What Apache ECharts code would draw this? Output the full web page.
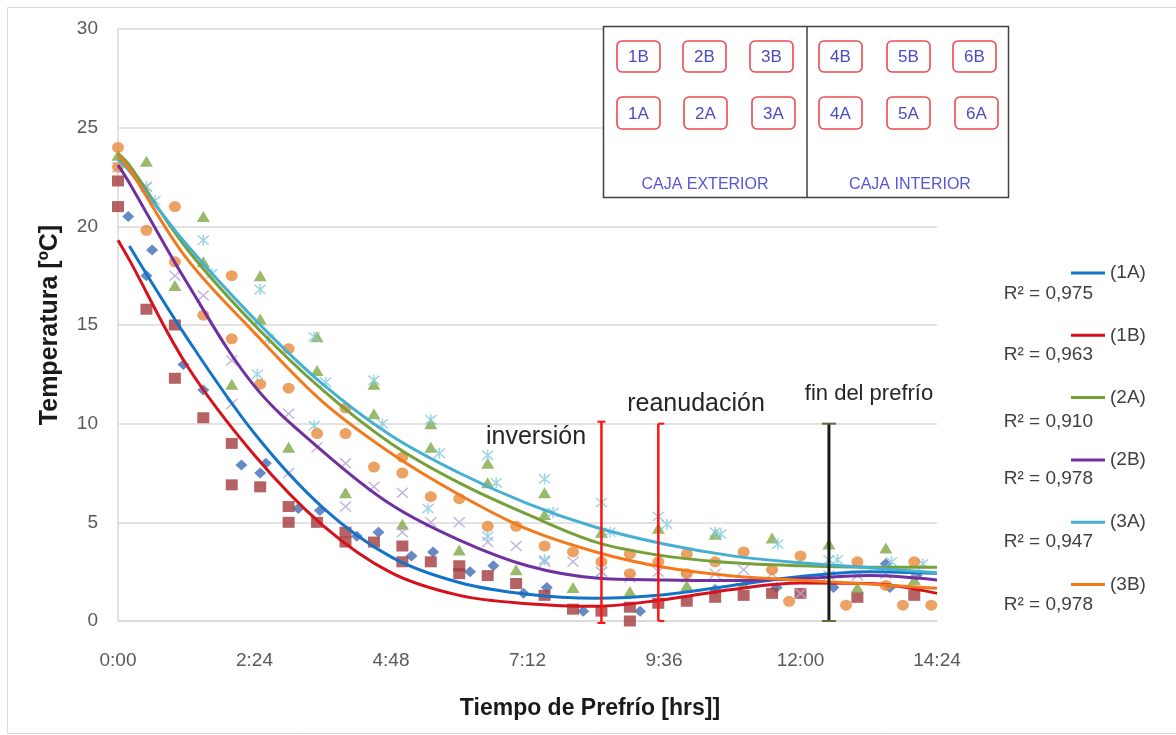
<!DOCTYPE html>
<html>
<head>
<meta charset="utf-8">
<script src="https://cdn.jsdelivr.net/npm/echarts@6/dist/echarts.min.js"></script>
<style>
html,body{margin:0;padding:0;background:#fff;}
#chart{width:1176px;height:735px;}
</style>
</head>
<body>
<div id="chart"></div>
<script>
// ---- tick labels ----
const xTickLabels = ['0:00','2:24','4:48','7:12','9:36','12:00','14:24'];

// ---- measured points (time in hours, temperature in °C) ----
const t1A = [0.18,0.5,0.6,1.15,1.5,2.17,2.5,2.6,3.17,3.55,4.2,4.58,5.16,5.54,6.19,6.6,7.13,7.54,8.18,9.18,10.5,11.58,12.58,13.5,13.57,14.04];
const v1A = [20.5,17.5,18.8,13.0,11.7,7.9,7.5,8.0,5.7,5.6,4.3,4.5,3.3,3.5,2.5,2.8,1.4,1.7,0.5,0.5,1.6,1.7,1.7,2.9,1.7,2.3];

const t1B = [0,0,0.5,1.0,1.0,1.5,2.0,2.0,2.5,3.0,3.0,3.5,4.0,4.0,4.5,5.0,5.0,5.5,6.0,6.0,6.5,7.0,7.5,8.0,8.5,9.0,9.0,9.5,10.0,10.5,11.0,11.5,12.0,13.0,14.0];
const v1B = [22.3,21.0,15.8,15.0,12.3,10.3,9.0,6.9,6.8,5.8,5.0,5.0,4.5,4.0,4.0,3.8,3.0,3.0,2.8,2.4,2.3,1.9,1.3,0.6,0.5,0.7,0.0,0.9,1.0,1.2,1.3,1.4,1.4,1.2,1.3];

const t2A = [0,0.5,1.0,1.5,1.5,2.0,2.5,2.5,3.0,3.5,3.5,4.0,4.5,4.5,5.0,5.5,5.5,6.0,6.5,6.5,7.0,7.5,7.5,8.0,8.5,9.0,9.5,10.0,10.5,11.0,11.5,12.5,13.0,13.5,14.0];
const v2A = [23.6,23.3,17.0,20.5,18.2,12.0,17.5,15.3,8.8,14.4,12.7,6.5,12.0,10.5,4.9,10.0,8.8,3.6,8.0,7.0,2.6,6.5,5.4,1.7,4.5,1.5,4.7,1.8,4.4,1.9,4.2,3.9,1.7,3.7,2.1];

const t2B = [0,0.5,1.0,1.5,2.0,2.0,3.0,3.0,3.5,4.0,4.0,4.5,5.0,5.0,5.5,6.0,6.5,7.0,7.5,8.0,8.5,9.0,9.5,10.0,10.5,11.0,11.5,12.0,12.5,13.0,13.5,14.0];
const v2B = [23.0,22.0,17.5,16.5,13.2,11.0,10.5,7.5,8.8,8.0,5.8,6.8,6.5,4.5,5.0,5.0,4.0,3.8,3.0,3.0,2.5,2.2,2.5,2.2,2.4,2.6,2.4,1.4,2.3,2.3,2.4,2.4];

const t3A = [0.5,0.65,1.5,1.65,2.45,2.5,2.65,3.45,3.45,3.65,4.5,4.65,5.45,5.5,5.65,6.5,6.5,6.65,7.5,7.5,7.65,8.5,8.5,8.65,9.5,9.65,10.5,10.6,11.6,12.5,12.65,13.6,14.15];
const v3A = [22.0,21.3,19.3,17.6,12.5,16.8,14.3,14.4,9.9,12.1,12.2,10.0,5.7,10.2,8.5,8.4,4.3,7.0,7.2,3.1,5.5,6.0,2.5,4.5,5.3,4.9,4.5,4.4,3.9,3.1,3.1,3.0,2.9];

const t3B = [0,0,0.5,1.0,1.0,1.5,2.0,2.0,2.5,3.0,3.0,3.5,4.0,4.0,4.5,5.0,5.0,5.5,6.0,6.5,7.0,7.5,8.0,8.5,9.0,9.0,9.5,10.0,10.0,10.5,11.0,11.5,11.8,12.0,12.8,13.0,13.5,13.8,14.0,14.3];
const v3B = [24.0,23.0,19.8,21.0,18.2,15.5,17.5,14.3,12.0,13.8,11.8,9.5,10.8,9.5,7.8,8.3,7.5,6.3,6.2,4.8,4.8,3.8,3.5,3.0,3.4,2.4,3.0,3.4,2.4,3.0,3.5,2.6,1.0,3.3,0.8,3.0,1.8,0.8,3.0,0.8];

// ---- trend lines ----
const fitTimes = [0,0.2,1.2,2.4,3.6,4.8,6.0,7.2,8.4,9.6,10.8,12.0,13.2,14.4];
const fit1A = [null,19.0,14.4,9.5,5.75,3.25,1.95,1.35,1.15,1.33,1.8,2.25,2.5,2.42];
const fit1B = [19.3,18.3,13.0,8.4,4.85,2.45,1.3,0.88,0.75,1.08,1.6,1.92,1.9,1.4];
const fit2A = [23.7,23.1,18.9,15.0,11.7,9.0,7.0,5.4,4.0,3.3,2.95,2.8,2.73,2.72];
const fit2B = [23.1,22.2,17.2,11.9,8.6,5.9,4.1,2.8,2.18,2.08,2.05,2.15,2.3,2.08];
const fit3A = [23.4,22.8,19.1,15.3,12.0,9.4,7.5,5.95,4.75,3.9,3.3,2.95,2.7,2.45];
const fit3B = [23.6,22.9,18.4,14.6,11.1,8.5,6.4,4.65,3.5,2.72,2.28,2.07,1.87,1.66];

const seriesNames = ['(1A)','(1B)','(2A)','(2B)','(3A)','(3B)'];
const r2Labels = ['R² = 0,975','R² = 0,963','R² = 0,910','R² = 0,978','R² = 0,947','R² = 0,978'];

// ---- events ----
const eventNames = ['inversión','reanudación','fin del prefrío'];
const eventTimes = [8.5, 9.5, 12.5];
const eventLow = [-0.1, 0, 0];
const eventHigh = [10.1, 10, 10];

// ---- box diagram labels ----
const boxTop = ['1B','2B','3B','4B','5B','6B'];
const boxBottom = ['1A','2A','3A','4A','5A','6A'];
const boxGroups = ['CAJA EXTERIOR','CAJA INTERIOR'];

const FONT = '"Liberation Sans", Arial, sans-serif';
const pairs = (ts, vs) => ts.map((t, i) => [t, vs[i]]);
const fitPairs = vs => fitTimes.map((t, i) => [t, vs[i]]);

const X_PATH = 'path://M0,0L10,10M10,0L0,10';
const STAR_PATH = 'path://M0,0L10,10M10,0L0,10M5,-1L5,11';

const scatterDefs = [
  {name:'1A pts', data: pairs(t1A, v1A), symbol:'diamond', size:[12,11], color:'#3E6DB5'},
  {name:'1B pts', data: pairs(t1B, v1B), symbol:'rect', size:[12,11], color:'#A33B3D'},
  {name:'2A pts', data: pairs(t2A, v2A), symbol:'triangle', size:[13,11], color:'#80A846'},
  {name:'2B pts', data: pairs(t2B, v2B), symbol:X_PATH, size:[11,10], stroke:'#B3A5D6'},
  {name:'3A pts', data: pairs(t3A, v3A), symbol:STAR_PATH, size:[11,11], stroke:'#86CADF'},
  {name:'3B pts', data: pairs(t3B, v3B), symbol:'circle', size:[12,11], color:'#E88A3C'}
];
const fitDefs = [
  {data: fit1A, color:'#1473C7'},
  {data: fit1B, color:'#D5121B'},
  {data: fit2A, color:'#76A03A'},
  {data: fit2B, color:'#7030A0'},
  {data: fit3A, color:'#45B0D2'},
  {data: fit3B, color:'#F27A1C'}
];

const series = [];
scatterDefs.forEach(d => {
  const s = {
    name: d.name, type: 'scatter', data: d.data, symbol: d.symbol, symbolSize: d.size,
    z: 2, silent: true
  };
  if (d.stroke) {
    s.itemStyle = {color: 'rgba(0,0,0,0)', borderColor: d.stroke, borderWidth: 1.5};
  } else {
    s.itemStyle = {color: d.color};
  }
  series.push(s);
});
fitDefs.forEach((d, i) => {
  series.push({
    name: seriesNames[i], type: 'line', data: fitPairs(d.data), smooth: 0.35,
    showSymbol: false, symbol: 'none', color: d.color,
    lineStyle: {color: d.color, width: 3}, z: 3, silent: true
  });
});

const evStroke = ['#FF1414','#FF1414','#1A1A1A'];
const evCap = ['#FF1414','#FF1414','#5E6E3A'];
const evCapL = [4, 0, 7];
const evCapR = [4, 6, 7];
series.push({
  name: 'eventos', type: 'custom', z: 4, silent: true, clip: false,
  data: eventTimes.map((t, i) => [t, eventLow[i], eventHigh[i]]),
  renderItem: (params, api) => {
    const i = params.dataIndex;
    const top = api.coord([api.value(0), api.value(2)]);
    const bot = api.coord([api.value(0), api.value(1)]);
    return {
      type: 'group',
      children: [
        {type:'line', shape:{x1:top[0], y1:top[1], x2:bot[0], y2:bot[1]}, style:{stroke: evStroke[i], lineWidth: i === 2 ? 3 : 2.5}},
        {type:'line', shape:{x1:top[0]-evCapL[i], y1:top[1], x2:top[0]+evCapR[i], y2:top[1]}, style:{stroke: evCap[i], lineWidth: 2}},
        {type:'line', shape:{x1:bot[0]-evCapL[i], y1:bot[1], x2:bot[0]+evCapR[i], y2:bot[1]}, style:{stroke: evCap[i], lineWidth: 2}}
      ]
    };
  }
});

// ---- graphic decorations ----
const graphics = [];
graphics.push({type:'rect', shape:{x:7.5, y:7.5, width:1180, height:726}, style:{fill:'none', stroke:'#D9D9D9', lineWidth:1}, silent:true, z:-1});

// R² labels
const r2Y = [294, 355, 422, 479, 542, 605];
r2Labels.forEach((txt, i) => {
  graphics.push({type:'text', x:1093, y:r2Y[i], style:{text: txt, font:'19px ' + FONT, fill:'#404040', align:'right', verticalAlign:'middle', textAlign:'right', textVerticalAlign:'middle'}});
});

// event labels
const evLabelPos = [[486, 437, 'left', 25], [696, 404, 'center', 25], [869, 394, 'center', 22]];
eventNames.forEach((txt, i) => {
  const p = evLabelPos[i];
  graphics.push({type:'text', x:p[0], y:p[1], style:{text: txt, font: p[3] + 'px ' + FONT, fill:'#262626', align:p[2], verticalAlign:'middle', textAlign:p[2], textVerticalAlign:'middle'}});
});

// box diagram (drawn above the grid lines)
const BZ = 50;
graphics.push({type:'rect', z:BZ, shape:{x:603.5, y:26.5, width:405, height:171}, style:{fill:'#fff', stroke:'#404040', lineWidth:1.5}});
graphics.push({type:'line', z:BZ+1, shape:{x1:807, y1:26.5, x2:807, y2:197.5}, style:{stroke:'#404040', lineWidth:1.5}});
const topX = [617, 683, 750, 819, 887, 953];
const botX = [617, 684, 752, 819, 887, 955];
boxTop.forEach((lab, i) => {
  graphics.push({type:'rect', z:BZ+1, shape:{x:topX[i], y:41, width:43, height:31, r:5}, style:{fill:'#fff', stroke:'#EA4A50', lineWidth:1.6}});
  graphics.push({type:'text', z:BZ+2, x:topX[i] + 21.5, y:57, style:{text: lab, font:'17px ' + FONT, fill:'#4B4BC4', align:'center', verticalAlign:'middle', textAlign:'center', textVerticalAlign:'middle'}});
});
boxBottom.forEach((lab, i) => {
  graphics.push({type:'rect', z:BZ+1, shape:{x:botX[i], y:97, width:43, height:32, r:5}, style:{fill:'#fff', stroke:'#EA4A50', lineWidth:1.6}});
  graphics.push({type:'text', z:BZ+2, x:botX[i] + 21.5, y:114, style:{text: lab, font:'17px ' + FONT, fill:'#4B4BC4', align:'center', verticalAlign:'middle', textAlign:'center', textVerticalAlign:'middle'}});
});
[705, 910].forEach((cx, i) => {
  graphics.push({type:'text', z:BZ+2, x:cx, y:185, style:{text: boxGroups[i], font:'16px ' + FONT, fill:'#5656D6', align:'center', verticalAlign:'middle', textAlign:'center', textVerticalAlign:'middle'}});
});

const chart = echarts.init(document.getElementById('chart'), null, {renderer:'canvas'});
chart.setOption({
  backgroundColor: '#ffffff',
  animation: false,
  textStyle: {fontFamily: FONT},
  grid: {left:118, right:239, top:29, bottom:114, containLabel:false},
  legend: {
    data: seriesNames, orient:'vertical', left:1066, top:258,
    icon:'rect', itemWidth:34, itemHeight:3, itemGap:42.3, selectedMode:false,
    textStyle: {fontSize:19, lineHeight:20, color:'#404040', fontFamily: FONT}
  },
  xAxis: {
    type:'value', min:0, max:14.4, interval:2.4,
    axisLine:{show:true, lineStyle:{color:'#D9D9D9', width:1.5}},
    axisTick:{show:false},
    splitLine:{show:false},
    axisLabel:{margin:30, fontSize:19, color:'#595959', fontFamily: FONT,
      formatter: v => xTickLabels[Math.round(v / 2.4)]},
    name:'Tiempo de Prefrío [hrs]]', nameLocation:'middle', nameGap:76,
    nameTextStyle:{fontSize:23, fontWeight:'bold', color:'#1A1A1A', fontFamily: FONT, padding:[0,0,0,125]}
  },
  yAxis: {
    type:'value', min:0, max:30, interval:5,
    axisLine:{show:true, lineStyle:{color:'#D9D9D9', width:1.5}},
    axisTick:{show:false},
    splitLine:{show:true, lineStyle:{color:'#D9D9D9', width:1.5}},
    axisLabel:{margin:20, fontSize:19, color:'#595959', fontFamily: FONT},
    name:'Temperatura [ºC]', nameLocation:'middle', nameGap:55, nameRotate:90,
    nameTextStyle:{fontSize:25, fontWeight:'bold', color:'#1A1A1A', fontFamily: FONT}
  },
  graphic: {elements: graphics},
  series: series
});
</script>
</body>
</html>
